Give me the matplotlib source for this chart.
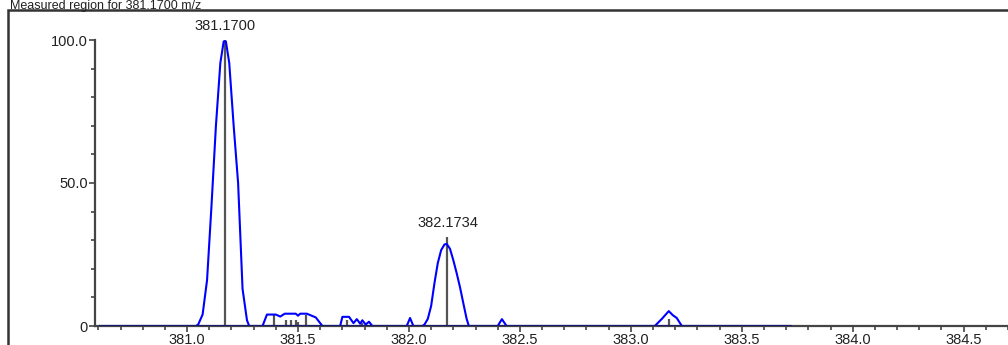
import matplotlib
matplotlib.use("Agg")
import matplotlib.pyplot as plt
from matplotlib.patches import Rectangle
from matplotlib.ticker import MultipleLocator

plt.rcParams['font.family'] = ['Liberation Sans', 'DejaVu Sans']

# profile trace (m/z, relative intensity)
profile_mz = [380.608, 381.04, 381.05, 381.07, 381.09, 381.11, 381.13, 381.15, 381.165,
              381.175, 381.19, 381.21, 381.23, 381.25, 381.27, 381.28,
              381.34, 381.36, 381.40, 381.42, 381.44, 381.49, 381.50, 381.51, 381.54,
              381.58, 381.61, 381.69,
              381.70, 381.73, 381.75, 381.765, 381.78, 381.79, 381.805, 381.82, 381.835,
              381.99, 382.005, 382.02,
              382.06, 382.07, 382.085, 382.10, 382.115, 382.13, 382.145, 382.16, 382.17,
              382.185, 382.20, 382.215, 382.23, 382.245, 382.26, 382.27,
              382.40, 382.419, 382.44,
              383.108, 383.14, 383.171, 383.189, 383.207, 383.23, 383.716]
profile_int = [0, 0, 0.5, 4, 16, 42, 70, 92, 99.5,
               99.5, 92, 70, 50, 13, 2, 0,
               0, 4, 4, 3.3, 4.3, 4.3, 3.6, 4.3, 4.3,
               3, 0, 0,
               3.2, 3.2, 1, 2.4, 0.8, 2, 0.5, 1.5, 0,
               0, 2.8, 0,
               0, 0.5, 2.5, 7, 15, 22, 26.5, 28.5, 28.7,
               27, 23, 18.5, 13.6, 8, 2.5, 0,
               0, 2.4, 0,
               0, 2.5, 5.2, 3.8, 2.8, 0, 0]

# centroid sticks
stick_mz = [381.17, 381.39, 381.445, 381.47, 381.49, 381.50, 381.535, 381.72, 381.79,
            382.1734, 383.171]
stick_int = [100, 4, 2, 2, 2, 1.5, 4, 2, 1, 31, 2.5]

peak_labels = ['381.1700', '382.1734']
peak_label_mz = [381.17, 382.1734]
peak_label_int = [100, 31]

title = 'Measured region for 381.1700 m/z'

fig = plt.figure(figsize=(10.08, 3.45), dpi=100)
ax = fig.add_axes([95 / 1008, 19 / 345, 913 / 1008, 286 / 345])

ax.vlines(stick_mz, 0, stick_int, color='#555555', lw=1.6, zorder=2)
ax.plot(profile_mz, profile_int, color='#0000ff', lw=1.5, zorder=3)
ax.plot([profile_mz[0], profile_mz[-1]], [0, 0], color='#1a1a6e', lw=2.2, zorder=4)

for lab, mz, h in zip(peak_labels, peak_label_mz, peak_label_int):
    ax.annotate(lab, (mz, h), xytext=(0, 5), textcoords='offset points',
                ha='center', va='bottom', fontsize=10.5, color='#222222')

ax.set_xlim(380.585, 384.70)
ax.set_ylim(0, 100)
ax.spines['top'].set_visible(False)
ax.spines['right'].set_visible(False)
for s in ('left', 'bottom'):
    ax.spines[s].set_color('#444444')
    ax.spines[s].set_linewidth(1.6)

ax.xaxis.set_minor_locator(MultipleLocator(0.1))
ax.yaxis.set_minor_locator(MultipleLocator(10))
ax.set_yticks([0, 50, 100])
ax.set_yticklabels(['0', '50.0', '100.0'])
ax.set_xticks([381.0, 381.5, 382.0, 382.5, 383.0, 383.5, 384.0, 384.5])
ax.set_xticklabels(['381.0', '381.5', '382.0', '382.5', '383.0', '383.5', '384.0', '384.5'])
ax.tick_params(axis='both', which='major', length=4, width=1.2, color='#444444',
               labelsize=10.5, labelcolor='#222222', pad=1)
ax.tick_params(axis='both', which='minor', length=3, width=1.2, color='#444444')
ax.patch.set_alpha(0)

# outer frame and title above it
fig.patches.append(Rectangle((8 / 1008, -0.2), 1.2, 1.2 - 10 / 345,
                             transform=fig.transFigure, fill=False,
                             edgecolor='#333333', lw=1.8))
fig.text(10 / 1008, 1 - 9.5 / 345, title, fontsize=9, ha='left', va='baseline',
         color='#222222')

fig.savefig('out.png', dpi=100)
